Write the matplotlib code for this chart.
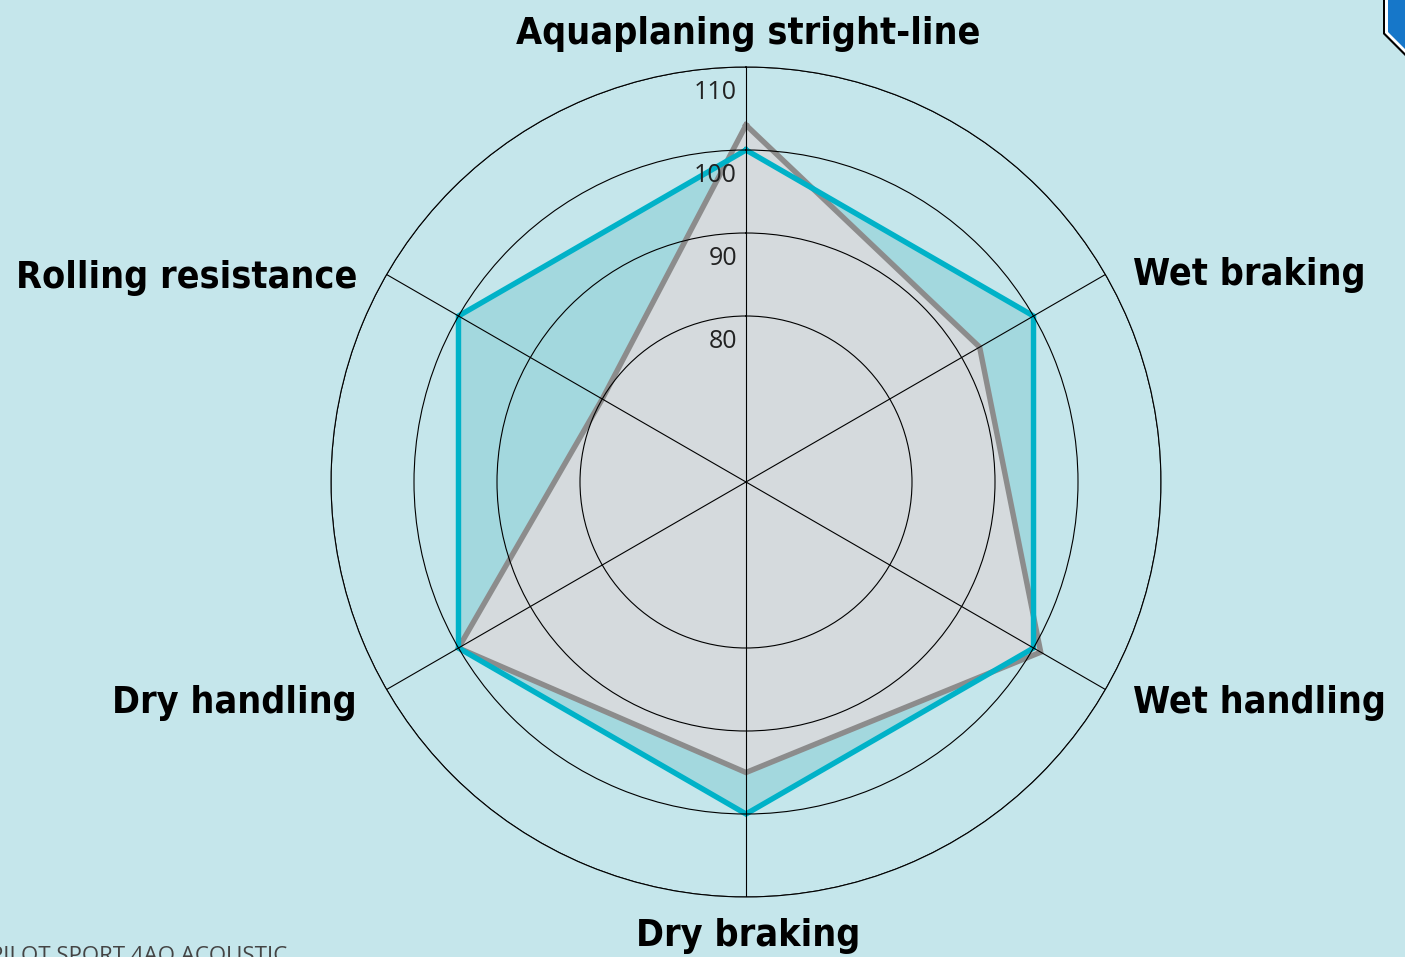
import matplotlib
matplotlib.use('Agg')
import matplotlib.pyplot as plt
import numpy as np
from matplotlib.patches import Polygon
from matplotlib.transforms import ScaledTranslation

categories = ['Aquaplaning stright-line', 'Wet braking', 'Wet handling',
              'Dry braking', 'Dry handling', 'Rolling resistance']
reference = [100, 100, 100, 100, 100, 100]
tyre = [103, 92.5, 101, 95, 100, 80]
ring_values = [80, 90, 100, 110]
ring_labels = ['80', '90', '100', '110']

bg = '#c5e6eb'
blue = '#00b2c8'
blue_fill = '#a3d8de'
grey = '#8c8c8c'
grey_fill = '#d5dadd'

W, H = 1405, 957
fig = plt.figure(figsize=(W / 100, H / 100), dpi=100, facecolor=bg)

def px(x, y):
    return x / W, 1 - y / H

# polar axes: centre (746, 482), radius 415 px
cx, cy, R = 746, 482, 415
ax = fig.add_axes([(cx - R) / W, (H - cy - R) / H, 2 * R / W, 2 * R / H],
                  projection='polar')
ax.set_facecolor('none')
ax.set_theta_offset(np.pi / 2)
ax.set_theta_direction(-1)
ax.set_ylim(60, 110)

angles = np.linspace(0, 2 * np.pi, len(categories), endpoint=False)
a = np.append(angles, angles[0])
ref = np.append(reference, reference[0])
ty = np.append(tyre, tyre[0])

ax.fill(a, ref, color=blue_fill, zorder=1)
ax.fill(a, ty, color=grey_fill, zorder=1.1)
ax.plot(a, ty, color=grey, lw=3.9, solid_joinstyle='miter', zorder=2)
ax.plot(a, ref, color=blue, lw=3.9, solid_joinstyle='miter', zorder=2.1)

ax.set_axisbelow(False)
ax.set_xticks(angles)
ax.set_xticklabels([])
ax.set_yticks(ring_values)
ax.set_yticklabels([])
ax.xaxis.grid(True, color='black', lw=0.8)
ax.yaxis.grid(True, color='black', lw=0.8)
for gl in ax.get_xgridlines() + ax.get_ygridlines():
    gl.set_zorder(3)
ax.spines['polar'].set_color('black')
ax.spines['polar'].set_linewidth(0.8)
ax.tick_params(length=0)

# ring labels just left of / below the top spoke
off = ax.transData + ScaledTranslation(-0.09, -0.25, fig.dpi_scale_trans)
for v, lab in zip(ring_values, ring_labels):
    ax.text(0, v, lab, transform=off, ha='right', va='center',
            fontsize=18, family=['Open Sans', 'DejaVu Sans'], color='#222222',
            zorder=4)

# category labels
lab_font = dict(fontsize=27, fontweight='bold', color='black',
                fontstretch='condensed', family=['DejaVu Sans'])
label_pos = [(748, 44, 'center'), (1133, 285, 'left'), (1133, 713, 'left'),
             (748, 946, 'center'), (357, 713, 'right'), (357, 288, 'right')]
for name, (x, y, ha) in zip(categories, label_pos):
    fig.text(*px(x, y), name, ha=ha, va='baseline', **lab_font)

# caption at the bottom left, cut by the lower edge as in the source
fig.text(*px(-10, 962), 'PILOT SPORT 4AO ACOUSTIC', ha='left', va='baseline',
         fontsize=16, color='#444444', family=['Open Sans', 'DejaVu Sans'])

# corner badge at top right, partly outside the picture
for pts, col in [([(1383, 0), (1383, 34), (1405, 56), (1405, 0)], 'black'),
                 ([(1385, 0), (1385, 33), (1405, 53), (1405, 0)], 'white'),
                 ([(1388, 0), (1388, 32), (1405, 49), (1405, 0)], '#1677c9')]:
    fig.add_artist(Polygon([px(x, y) for x, y in pts], closed=True,
                           transform=fig.transFigure, color=col, lw=0))

fig.savefig('out.png', dpi=100, facecolor=bg)
